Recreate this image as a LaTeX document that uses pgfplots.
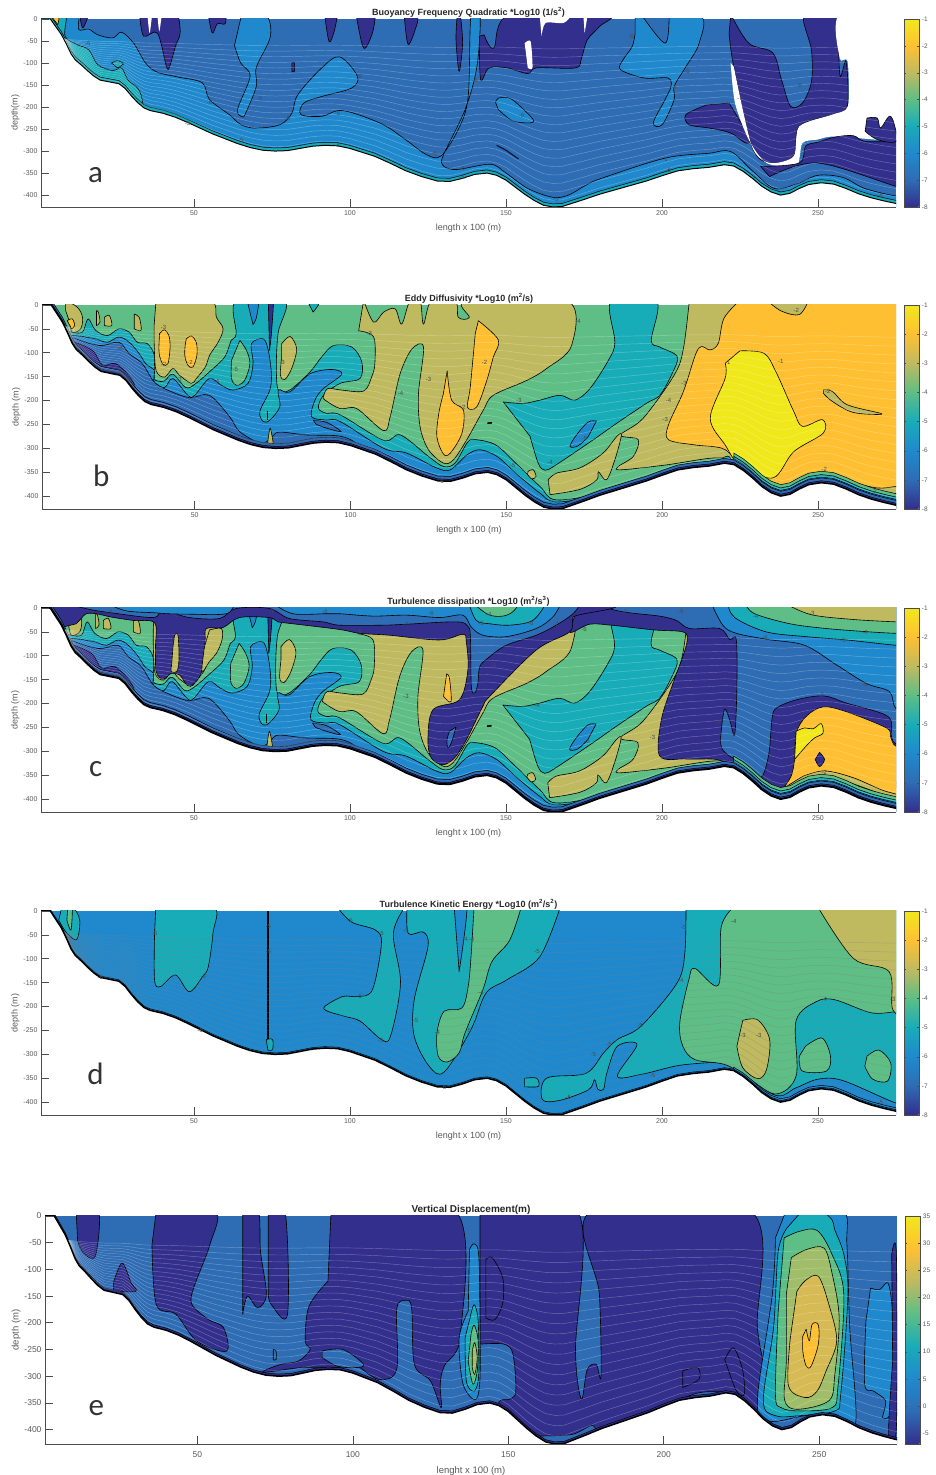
\documentclass[border=0pt]{standalone}
\usepackage{pgfplots}
\usepackage{pgfplotstable}
\usepackage{fontspec}
\setmainfont{Liberation Sans}
\newfontfamily\lett{Carlito}
\pgfplotsset{compat=1.18}
\definecolor{cA}{RGB}{51,47,140}
\definecolor{cB}{RGB}{46,108,180}
\definecolor{cC}{RGB}{32,137,205}
\definecolor{cD}{RGB}{24,172,184}
\definecolor{cE}{RGB}{94,190,133}
\definecolor{cF}{RGB}{191,186,96}
\definecolor{cG}{RGB}{254,192,50}
\definecolor{cH}{RGB}{241,232,28}
\definecolor{cL}{RGB}{160,190,105}
\definecolor{cM}{RGB}{214,186,84}
\pgfplotsset{colormap={parula}{rgb255=(51,47,140) rgb255=(46,108,180) rgb255=(32,137,205) rgb255=(24,172,184) rgb255=(94,190,133) rgb255=(191,186,96) rgb255=(254,192,50) rgb255=(241,232,28)}}
\pgfplotstableread{
x y
-5 0
1 0
4 0
6 -20
7.5 -35
9 -55
10.7 -80
12 -93
14 -105
16 -118
18 -130
20 -139
23 -143
26 -147
28 -158
30 -175
32 -190
34 -202
36 -208
40 -214
44 -223
48 -235
52 -248
56 -261
60 -272
64 -283
68 -292
72 -298
76 -300
80 -299
84 -294
88 -289
92 -287
96 -288
100 -294
104 -303
108 -312
113 -328
118 -345
123 -358
128 -368
132 -369
136 -362
140 -353
144 -350
147 -355
150 -366
153 -382
156 -398
159 -412
162 -423
165 -427
168 -426
171.5 -418
175 -410
180 -398
185 -388
190 -378
195 -368
200 -356
205 -345
210 -340
215 -337
220 -331
223 -334
226 -346
229 -362
232 -380
235 -393
238 -400
241 -396
244 -385
247 -376
251 -372
255 -375
259 -385
263 -397
267 -406
271 -413
275 -419
280 -421
280 -700
-5 -700
}\bathy
\pgfplotstableread{
x y
223 -700
223 -334
226 -346
229 -362
232 -380
235 -393
238 -400
241 -396
244 -385
247 -376
251 -372
255 -375
259 -385
263 -397
267 -406
271 -413
275 -419
280 -421
280 -700
}\bathyR
\newcommand{\rg}[2]{\addplot[fill=#1,draw=black,line width=.6pt,smooth,tension=.55,line join=round] coordinates {#2} --cycle;}
\newcommand{\rgn}[2]{\addplot[fill=#1,draw=none] coordinates {#2} --cycle;}
\newcommand{\rgs}[2]{\addplot[fill=#1,draw=none,smooth,tension=.45] coordinates {#2} --cycle;}
\newcommand{\band}[2]{\addplot[fill=#2,draw=black,line width=.5pt] table[y expr=\thisrowno{1}+#1] {\bathy} --cycle;}
\newcommand{\bandR}[2]{\addplot[fill=#2,draw=black,line width=.5pt] table[y expr=\thisrowno{1}+#1] {\bathyR} --cycle;}
\newcommand{\sig}[1]{\pgfplotsinvokeforeach{.06,.11,.16,.21,.26,.31,.36,.41,.46,.51,.56,.61,.66,.71,.76,.81,.86,.91,.96}{\addplot[#1,line width=.45pt,restrict x to domain=1:275] table[y expr={-45+(\thisrowno{1}+45)*##1}] {\bathy};}}
\newcommand{\mask}[1]{\addplot[fill=white,draw=black,line width=#1] table {\bathy} --cycle;}
\newcommand{\lb}[3]{\node[font=\fontsize{6}{6}\selectfont,text=black!70,inner sep=0pt] at (axis cs:#1,#2) {#3};}
\newcommand{\letter}[3]{\node[font=\lett\fontsize{31}{31}\selectfont,text=black!80,inner sep=0pt] at (axis cs:#1,#2) {#3};}
\pgfplotsset{
 panel/.style={scale only axis,xmin=1,xmax=275,ymin=-427,ymax=0,
  axis x line*=bottom,axis y line*=left,axis on top,clip=true,
  axis line style={black!70,line width=.8pt},
  xtick={50,100,150,200,250},ytick={-400,-350,-300,-250,-200,-150,-100,-50,0},
  tick align=inside,major tick length=8pt,tick style={black!70,line width=.6pt},
  tick label style={font=\fontsize{7}{8}\selectfont,text=black!65},
  /pgf/number format/assume math mode=true,
  label style={font=\fontsize{9}{10}\selectfont,text=black!65},
  title style={font=\bfseries\fontsize{9}{10}\selectfont,text=black!85,yshift=-8pt},
  xlabel style={yshift=-2pt},ylabel style={yshift=-3pt},
  },
 cb/.style n args={3}{colorbar,colormap name=parula,point meta min=#1,point meta max=#2,
  colorbar shift/.style={xshift=8pt},
  colorbar style={width=15pt,ytick={#3},tick align=inside,major tick length=2pt,
    axis line style={black!70,line width=.7pt},tick style={black!70},
    /pgf/number format/assume math mode=true,
    yticklabel style={font=\fontsize{6.5}{7}\selectfont,text=black!65,xshift=-1pt}}},
}
\newcommand{\sharedBC}{
\rgn{cE}{(1,0)(275,0)(275,-440)(1,-440)}
\rg{cF}{(208.7,10)(206.8,-91)(203.9,-146)(193.9,-237)(186.7,-272)(192.3,-282)(190.7,-317)(185.9,-338)(186.7,-345)(201,-335)(217,-320)(224,-330)(232,-375)(238,-392)(243,-380)(250,-357)(258,-362)(265,-383)(275,-395)(280,-395)(280,10)}
\rg{cD}{(10.7,-57)(14,-57)(15.8,-29)(18.2,-53)(22,-64)(25.7,-50)(29,-57)(31.6,-78)(34.8,-81)(37,-105)(37,-151)(38.1,-159)(40.3,-159)(43,-145)(47.2,-173)(50.4,-164)(54.7,-140)(59.6,-109)(61.7,-74)(63.3,-60)(63.3,10)(78.9,10)(76.8,-57)(76.2,-123)(76.8,-178)(80.5,-178)(87,-140)(90.7,-109)(94.5,-85)(100.4,-88)(103.6,-119)(103,-154)(96.7,-164)(91.3,-189)(89.7,-216)(92.4,-227)(96.7,-230)(110.6,-283)(116,-272)(125,-317)(129.8,-338)(133.5,-331)(137.7,-286)(140.4,-282)(146.6,-293)(153,-331)(160.8,-380)(166,-408)(182,-392)(199,-359)(215,-335)(222,-322)(222,-440)(5,-440)(5,-50)}
\rg{cD}{(149,-203)(155.4,-206)(160.8,-199)(167.2,-189)(172,-199)(176.8,-175)(182.7,-116)(184.8,-78)(183.7,10)(198.1,10)(196.5,-74)(199.2,-88)(204.8,-108)(203,-146)(199.2,-189)(194.9,-206)(185.3,-248)(177.9,-282)(166.1,-334)(162.4,-346)(160.2,-331)(157.6,-275)}
\rg{cC}{(178.9,-243)(176.2,-245)(172.5,-272)(170.4,-296)(173,-295)(176.2,-276)}
\rg{cC}{(11.2,-64)(14,-66)(18.2,-71)(22,-78)(25.7,-67)(29,-78)(32.2,-102)(34.3,-123)(37,-137)(37,-161)(40.3,-173)(43,-154)(47.8,-189)(50,-189)(54.7,-154)(58.5,-168)(62.3,-178)(67.1,-164)(68.7,-123)(68.2,-81)(72,-71)(73.6,-95)(74.6,-144)(74.1,-178)(70.9,-223)(72,-244)(74.1,-241)(77.3,-213)(76.8,-178)(80.5,-182)(87,-144)(94,-135)(97.2,-145)(91.3,-175)(88.6,-199)(87.5,-234)(92.4,-241)(96.7,-244)(110.6,-300)(118,-310)(127.6,-341)(132,-345)(137.3,-314)(141.5,-303)(147,-317)(153,-352)(160.8,-394)(166,-412)(182,-398)(199,-365)(215,-340)(222,-330)(222,-440)(5,-440)(5,-60)}
\rg{cB}{(11.2,-69)(16,-80)(20.4,-85)(25.7,-78)(29,-102)(33.2,-123)(37,-161)(41.3,-178)(48.3,-194)(54.7,-189)(61.2,-234)(64.4,-265)(70.9,-289)(74,-282)(75.1,-274)(77.3,-266)(85.9,-272)(97,-275)(103,-296)(105,-330)(105,-440)(5,-440)(5,-70)}
\rg{cA}{(10.7,-76)(17.2,-95)(20.4,-126)(24.7,-123)(29.6,-154)(32.2,-189)(36,-206)(51.6,-244)(64.5,-286)(75,-293)(91,-286)(103,-303)(103,-440)(5,-440)(5,-76)}
\rg{cB}{(88,-241)(92.4,-246)(97,-265)(92.4,-258)(89,-250)}
\rg{cF}{(18.5,-12)(19.1,-15)(19.6,-36)(18.5,-43)}
\rg{cF}{(21,-26)(22.6,-22)(23.4,-43)(21,-43)}
\rg{cF}{(30.6,-19)(32.2,-26)(32.8,-53)(30.6,-50)}
\rg{cF}{(8.6,10)(12.4,-5)(14,-26)(13.4,-50)(10.7,-57)(9.7,-33)(8.6,-12)}
\rg{cF}{(37.6,10)(54.8,10)(57,-26)(59.1,-50)(57.5,-78)(54.8,-105)(53.4,-130)(50.5,-154)(48.9,-164)(45.1,-147)(43,-133)(40.3,-151)(37.6,-137)(37,-81)(37,-40)}
\rg{cF}{(77.9,-81)(80.6,-66)(82.7,-92)(81.1,-133)(78.9,-156)(77.5,-147)(77.9,-109)}
\rg{cE}{(64.5,-74)(66.6,-95)(67.7,-123)(66,-158)(63.4,-168)(61.8,-154)(61.8,-116)}
\rg{cC}{(66.8,10)(70.3,10)(69.8,-26)(68.7,-41)}
\rg{cD}{(86,10)(90.3,10)(88,-15)}
\rg{cA}{(73.6,10)(75.2,10)(74.6,-60)(74,-95)}
\rg{cF}{(73.4,-290)(74.2,-258)(75.2,-290)}
\addplot[black,line width=1pt] coordinates {(73.2,-222)(73.2,-240)};
\rg{cF}{(104.2,10)(107.4,-36)(110.6,-15)(114.3,-8)(116.4,-40)(119.1,10)(122.3,10)(123.4,-40)(126,10)(133.5,10)(134.6,-26)(138.1,-26)(137.3,10)(169.3,10)(170.9,-85)(162.9,-133)(156.5,-158)(145.8,-189)(142.6,-220)(137.3,-282)(133,-324)(129.8,-331)(125,-303)(122.3,-255)(121.8,-185)(123.4,-88)(119.7,-92)(115.9,-144)(112.7,-234)(110.6,-263)(102,-217)(96.7,-217)(91.8,-199)(91.3,-192)(92.7,-175)(97,-178)(104.2,-180)(106.8,-150)(107.8,-122)(107.4,-67)(102.6,-54)}
\rg{cF}{(163.4,-366)(166.1,-352)(173.6,-341)(181,-310)(185.3,-276)(186.9,-272)(184.8,-324)(182.1,-366)(179.5,-349)(179,-366)(173.6,-386)(164,-397)}
\rg{cF}{(157,-348)(158.6,-345)(159.5,-359)(158.1,-364)(156.7,-354)}
\rg{black}{(144,-246)(145.3,-246)(145.3,-248)(144,-248)}
}
\begin{document}
\begin{tikzpicture}[x=1pt,y=1pt]
\path[use as bounding box] (0,0) rectangle (936,1475);
% ================= a
\begin{axis}[panel,at={(41pt,1268pt)},anchor=south west,width=855pt,height=188pt,
 cb={-8}{-1}{-8,-7,-6,-5,-4,-3,-2,-1},
 title={Buoyancy Frequency Quadratic *Log10 (1/s\textsuperscript{2})},
 xlabel={length x 100 (m)},ylabel={depth(m)}]
\rgn{cB}{(1,0)(275,0)(275,-440)(1,-440)}
\rg{cC}{(13.4,10)(13.1,-24)(16.3,-23)(19.2,-36)(24,-43)(26.8,-30)(30.7,-55)(34.5,-100)(38.3,-121)(45,-132)(52.7,-145)(55,-183)(61.3,-217)(65.1,-240)(69.9,-248)(77.6,-240)(81.4,-214)(83.3,-172)(91,-111)(96.7,-86)(102.4,-130)(100.5,-157)(91,-176)(85.2,-191)(84.3,-217)(91,-221)(97.7,-208)(110.1,-238)(117.8,-274)(124.5,-308)(129.2,-311)(134.9,-248)(137.9,-176)(138.8,10)(141.7,10)(140.7,-108)(136.9,-206)(130.2,-305)(129.6,-331)(134,-342)(145,-330)(150,-350)(157,-385)(165,-405)(170,-400)(176,-376)(181,-361)(201,-316)(215,-305)(222,-301)(229,-345)(236,-385)(243,-375)(250,-355)(258,-360)(265,-385)(275,-402)(280,-402)(280,-440)(3,-440)(3,10)}
\rg{cC}{(65.3,10)(73,10)(74.5,-40)(70,-110)(70,-153)(66.5,-215)(65.5,-222)(64,-205)(68,-130)(65,-100)(63,-60)}
\addplot[cA!40!black,line width=1.2pt] coordinates {(147,-287)(150,-298)(154,-318)};
\rg{cC}{(146.7,-190)(147.5,-180)(151.3,-180)(156,-208)(158.9,-231)(157,-236)(152,-231)(147.5,-205)}
\rg{cC}{(191.4,10)(211.9,10)(211.9,-55)(207.7,-108)(203.9,-153)(203.9,-183)(200.1,-240)(197.2,-236)(201,-183)(202.9,-153)(201.9,-134)(194.3,-134)(186.7,-115)(187.6,-92)(190.5,-62)(191.4,-32)}
\rg{cB}{(193.4,10)(201,-55)(202.3,10)}
\rg{cD}{(4.8,10)(9,10)(8.7,-39)(12.5,-58)(16.3,-70)(19.2,-104)(24,-117)(26.8,-111)(28.8,-138)(33.6,-191)(34,-440)(3,-440)(3,10)}
\rg{cD}{(23.6,-100)(25.5,-95)(27.4,-102)(25.5,-111)}
\rg{cG}{(3.9,10)(6.7,10)(6.4,-13)}
\band{7}{cD}
\rg{cA}{(13.4,10)(14.4,-20)(16.3,10)}
\rg{cA}{(32.6,10)(33.9,-39)(38.3,-32)(41.2,-108)(42.2,-108)(44.1,-62)(45.6,-32)(45,10)}
\rg{cA}{(54.6,10)(55.9,-32)(57.5,-11)(60,-11)(60.3,10)}
\rg{cA}{(91.9,10)(93.3,-51)(94.8,-32)(96.1,10)}
\rg{cA}{(102,10)(104.4,-66)(107.2,-32)(108.2,10)}
\rg{cA}{(117.4,10)(118.7,-58)(121.6,-9)(121.6,10)}
\rg{cA}{(134.4,10)(134,-47)(135,-119)(136.1,-55)(135.4,10)}
\rg{cA}{(81.4,-100)(82.2,-100)(82.2,-119)(81.4,-119)}
\rg{cA}{(141.5,-39)(141.9,-138)(144.6,-111)(150.3,-111)(157,-124)(159.9,-111)(172.3,-111)(174.2,-89)(176.1,-47)(180,-17)(182.4,10)(151.3,10)(146.1,-66)(143,-36)}
\rg{cA}{(222.1,10)(227.8,-55)(235.5,-77)(238.3,-138)(241.2,-198)(245,-191)(247.9,-142)(247.9,-70)(245.6,10)(256.5,10)(256.5,-39)(257.1,-130)(259,-96)(259.4,-198)(254.6,-217)(244,-244)(242.2,-312)(234.5,-327)(228.8,-289)(223,-108)(221.5,-32)}
\rg{cA}{(214.4,-195)(207.7,-217)(208.7,-240)(215.4,-248)(222,-259)(226.9,-282)(227.8,-267)(221.5,-191)}
\rgs{white}{(35.1,10)(35.8,-32)(36.6,10)}
\rgs{white}{(38.3,10)(38.9,-28)(39.7,10)}
\rgs{white}{(156,-55)(157.9,-51)(158.5,-111)(157,-111)}
\rgs{white}{(160.8,10)(170.4,10)(168.5,-9)(162.7,-9)(161.4,-39)}
\rgs{white}{(174.8,10)(176.1,10)(175.2,-32)}
\rgs{white}{(222,-100)(223.4,-191)(227.8,-274)(233.5,-327)(243,-335)(245,-282)(249.8,-274)(255.6,-267)(275,-278)(280,-278)(280,10)(257,10)(257,-90)(259.5,-96)(259.6,-198)(254.6,-217)(244,-244)(242.2,-312)(234.5,-327)(228.8,-289)(223,-108)}
\rg{cA}{(231.6,-335)(244,-327)(246,-289)(249.8,-280)(255.6,-268)(261.3,-265)(265.1,-278)(275,-278)(280,-278)(280,-385)(275,-380)(249.8,-327)(234.5,-358)}
\rg{cA}{(265.7,-225)(269,-225)(270,-248)(272.8,-221)(274.3,-236)(275,-278)(269,-274)(265.1,-255)}
\sig{white,opacity=.3}
\mask{1pt}
\letter{18.5}{-354}{a}
\lb{16}{-55}{-6}\lb{55}{-190}{-6}\lb{71}{-180}{-6}\lb{103}{-130}{-6}\lb{80}{-225}{-6}\lb{96}{-215}{-6}\lb{127}{-305}{-6}\lb{136}{-340}{-6}\lb{136}{-360}{-5}\lb{65}{-275}{-5}\lb{48}{-238}{-5}\lb{96}{-288}{-5}\lb{166}{-410}{-5}\lb{201}{-320}{-6}\lb{202}{-345}{-5}\lb{190}{-40}{-6}\lb{208}{-120}{-6}\lb{204}{-155}{-6}\lb{244}{-150}{-6}\lb{225}{-180}{-7}\lb{155}{-220}{-6}\lb{140}{-140}{-6}\lb{241}{-315}{-7}\lb{270}{-400}{-6}
\end{axis}
% ================= b
\begin{axis}[panel,at={(42pt,966pt)},anchor=south west,width=854pt,height=204pt,
 cb={-8}{-1}{-8,-7,-6,-5,-4,-3,-2,-1},
 title={Eddy Diffusivity *Log10 (m\textsuperscript{2}/s)},
 xlabel={length x 100 (m)},ylabel={depth (m)}]
\sharedBC
\rg{cG}{(9.1,-33)(10.7,-29)(11.5,-43)(10.5,-50)}
\rg{cG}{(38.7,-60)(40.3,-52)(41.7,-64)(42.1,-88)(41.4,-123)(39.8,-124)(38.7,-106)(38.5,-88)}
\rg{cG}{(47.3,-71)(48.9,-65)(50.5,-78)(50.7,-105)(49.4,-130)(47.8,-126)(46.8,-105)(47,-81)}
\rg{cG}{(141,-33)(147.4,-73)(145.8,-109)(143.7,-158)(140.5,-213)(137.5,-214)(138.4,-172)(140,-60)}
\rg{cG}{(131,-138)(132.4,-199)(136.2,-220)(135.7,-269)(132,-310)(129.8,-312)(127.7,-276)(128.3,-227)(129.8,-185)}
\rg{cG}{(224.9,10)(219.8,-28)(218,-80)(215.4,-94)(212.5,-87)(210.6,-105)(206.8,-181)(202,-251)(202,-282)(210.6,-293)(219.2,-300)(224,-324)(235.5,-383)(240,-380)(250,-354)(259.4,-369)(269,-383)(275,-380)(280,-380)(280,10)}
\rg{cF}{(233.5,10)(238.3,-13)(244,-20)(247,10)}
\rg{cF}{(251.7,-178)(254.6,-181)(259.4,-209)(270.5,-228)(261.3,-225)(254.6,-202)(251.7,-185)}
\rg{cH}{(224.9,-96)(232.6,-101)(236.4,-139)(242.2,-223)(245,-254)(251.4,-240)(251.7,-268)(242.2,-307)(235.5,-362)(224.9,-335)(220.2,-293)(215.4,-237)(220.2,-153)(220.2,-122)}
\bandR{24}{cE}\bandR{17}{cD}\bandR{12}{cC}
\band{10}{cB}\band{4}{cA}
\sig{white,opacity=.3}
\mask{1.5pt}
\letter{20}{-357}{b}
\lb{40}{-48}{-3}\lb{40}{-125}{-2}\lb{48.5}{-120}{-2}\lb{45}{-155}{-3}\lb{26}{-90}{-6}\lb{63}{-135}{-5}\lb{78}{-120}{-3}\lb{57}{-160}{-4}\lb{106}{-60}{-3}\lb{116}{-185}{-4}\lb{125}{-155}{-3}\lb{136}{-215}{-2}\lb{143}{-120}{-2}\lb{154}{-200}{-3}\lb{164}{-330}{-4}\lb{175}{-280}{-5}\lb{173}{-35}{-4}\lb{202}{-200}{-4}\lb{201}{-240}{-3}\lb{207}{-165}{-3}\lb{221}{-120}{-1}\lb{238}{-118}{-1}\lb{253}{-180}{-2}\lb{252}{-345}{-2}\lb{243}{-12}{-2}\lb{129}{-370}{-6}\lb{152}{-335}{-5}\lb{268}{-390}{-2}
\end{axis}
% ================= c
\begin{axis}[panel,at={(41pt,663pt)},anchor=south west,width=855pt,height=204pt,
 cb={-8}{-1}{-8,-7,-6,-5,-4,-3,-2,-1},
 title={Turbulence dissipation *Log10 (m\textsuperscript{2}/s\textsuperscript{3})},
 xlabel={lenght x 100 (m)},ylabel={depth (m)}]
\sharedBC
\rg{cA}{(174,10)(170.4,-50)(176.8,-34)(183.7,-36)(197.6,-46)(206.7,-50)(208.1,-67)(206.5,-105)(203.5,-158)(199.8,-234)(199.3,-310)(207.8,-316)(217.4,-317)(221.7,-331)(227,-352)(234,-387)(237.7,-383)(239.8,-376)(275,-376)(280,-376)(280,10)}
\rg{cB}{(176.3,10)(187.5,-8)(199.2,-17)(204.6,-26)(208.9,-43)(218.5,-43)(221.7,-66)(223.8,-66)(224,-165)(223.3,-265)(221.7,-234)(220,-213)(218.8,-283)(221,-307)(225.6,-324)(231.5,-355)(234.2,-307)(235.3,-230)(236.8,-209)(243.2,-192)(251.8,-184)(259.1,-199)(272.4,-227)(273.5,-268)(275,-285)(280,-285)(280,10)}
\rg{cC}{(215.8,10)(219.5,-36)(223.8,-53)(234,-66)(245.7,-78)(255.9,-119)(265.5,-158)(272.9,-175)(274.9,-210)(280,-210)(280,10)}
\rg{cD}{(221.1,10)(223.3,-20)(233.4,-50)(246.2,-60)(259.3,-67)(274.9,-78)(280,-78)(280,10)}
\rg{cE}{(226.5,10)(229.7,-12)(241,-33)(252.7,-43)(266.5,-50)(274.9,-53)(280,-53)(280,10)}
\rg{cF}{(239.3,10)(247.8,-14)(261.2,-24)(274.9,-29)(280,-29)(280,10)}
\rg{cF}{(236.5,-385)(245.2,-362)(252.1,-352)(261.2,-368)(275,-400)(280,-400)(280,-376)(252,-330)(240,-370)}
\rg{cG}{(238.8,-378)(241.4,-352)(242.5,-317)(243,-262)(246.2,-227)(251.6,-207)(259,-217)(271.9,-251)(273.2,-269)(274.9,-289)(280,-289)(280,-385)(272.4,-385)(261.2,-355)(252.1,-341)(245.2,-352)}
\rg{cH}{(243,-258)(245.7,-251)(248.4,-253)(251,-242)(251.6,-262)(248.9,-272)(246.2,-289)(242.5,-317)}
\rg{cA}{(250.5,-302)(252.1,-317)(250.5,-332)(249.1,-317)}
\rg{cA}{(12.3,-33)(13.9,-22)(15.5,-12)(18.7,-12)(23.5,-19)(30.5,-26)(37.4,-31)(37.7,-81)(37.9,-133)(40.1,-149)(42.7,-137)(45.4,-140)(48.1,-163)(50.7,-154)(52.6,-130)(53.6,-71)(54,-43)(59.3,-41)(64.6,-20)(74.2,-20)(76.9,-29)(81.7,-33)(96.7,-45)(103.1,-53)(112.7,-57)(128.7,-67)(136.2,-55)(137.3,-71)(137.8,-130)(135.1,-192)(126.6,-213)(125,-276)(126.1,-314)(129.8,-328)(133.5,-314)(137.3,-276)(142.6,-206)(144.8,-185)(159.7,-88)(170.4,-50)(171.5,-19)(174.7,10)(5,10)(8,-40)}
\rg{cF}{(43.8,-57)(44.9,-57)(45.2,-109)(44.5,-133)(42.7,-133)(42.9,-116)(43.3,-81)}
\rg{cF}{(55,-46)(58.8,-43)(59,-67)(57.2,-95)(55,-112)(52.9,-133)(52.6,-123)(53.4,-81)}
\rg{cB}{(134,-249)(132.5,-282)(131.4,-293)(131.1,-276)(131.9,-258)}
\rg{cG}{(131,-138)(131.9,-147)(132.4,-196)(130,-185)}
\rg{cB}{(8.6,10)(16.6,-3)(23.5,-10)(36.9,-20)(40.1,-6)(48.6,-20)(58.2,-22)(63.6,-1)(74.2,-1)(80.6,-22)(91.3,-29)(96.7,-36)(110.6,-36)(118.1,-34)(134.1,-29)(137.8,-38)(138.6,-60)(138.9,-164)(140,-178)(141,-158)(141.6,-123)(144.2,-105)(150.1,-78)(159.7,-57)(166.1,-36)(171.5,-12)(174.1,10)}
\rg{cC}{(21.9,10)(28.3,-6)(37.4,-10)(41.7,-12)(48.6,-13)(60.4,-12)(63,10)}
\rg{cC}{(75.3,10)(81.7,-12)(92.4,-12)(96.7,-12)(107.4,-17)(118.1,-15)(128.7,-20)(136.2,-15)(138.9,-40)(142.6,-57)(150.1,-60)(159.7,-43)(165,-19)(167.7,10)}
\rg{cD}{(138.1,10)(140.5,-26)(144.8,-33)(151.2,-36)(158.6,-26)(162.9,10)}
\rg{cE}{(139.4,10)(144.4,-14)(149,-17)(152.2,-8)(154.4,10)}
\bandR{24}{cE}\bandR{17}{cD}\bandR{12}{cC}
\band{10}{cB}\band{4}{cA}
\sig{white,opacity=.3}
\mask{1.8pt}
\letter{18.5}{-337}{c}
\lb{23}{-10}{-7}\lb{44}{-16}{-6}\lb{75}{-8}{-7}\lb{92}{-8}{-6}\lb{103}{-50}{-6}\lb{118}{-35}{-7}\lb{126}{-12}{-6}\lb{144.5}{-14}{-4}\lb{142}{-32}{-5}\lb{158}{-32}{-6}\lb{166}{-35}{-7}\lb{175}{-45}{-6}\lb{188}{-10}{-7}\lb{206}{-8}{-6}\lb{230}{-18}{-4}\lb{248}{-12}{-3}\lb{265}{-52}{-4}\lb{258}{-67}{-5}\lb{233}{-62}{-6}\lb{265}{-160}{-6}\lb{251}{-184}{-7}\lb{252}{-345}{-2}\lb{118}{-185}{-3}\lb{146}{-120}{-5}\lb{160}{-205}{-4}\lb{176}{-280}{-5}\lb{197}{-270}{-3}\lb{218}{-240}{-7}
\end{axis}
% ================= d
\begin{axis}[panel,at={(41pt,360pt)},anchor=south west,width=855pt,height=204pt,
 cb={-8}{-1}{-8,-7,-6,-5,-4,-3,-2,-1},
 title={Turbulence Kinetic Energy *Log10 (m\textsuperscript{2}/s\textsuperscript{2})},
 xlabel={lenght x 100 (m)},ylabel={depth (m)}]
\rgn{cC}{(1,0)(275,0)(275,-440)(1,-440)}
\rg{cD}{(37.8,10)(56.1,10)(56.1,-47)(54.6,-117)(52.7,-138)(48.5,-169)(44.1,-134)(39.3,-158)(37.4,-145)(37.4,-47)}
\rg{cD}{(7.7,10)(11,10)(13.4,-19)(12.4,-60)(9,-44)(6.7,-19)}
\rg{cE}{(9.6,10)(11,10)(10.6,-40)(9.3,-19)}
\rg{cD}{(95.7,10)(100.5,-23)(108.2,-40)(110.1,-68)(107.2,-165)(102.4,-179)(97.7,-179)(91.9,-200)(92.9,-210)(98.6,-221)(103.4,-231)(110.1,-269)(113,-262)(116.2,-151)(113.9,-47)(117.8,10)}
\rg{cD}{(118.3,10)(118.7,-47)(123.5,-44)(125,-75)(120.6,-186)(120.6,-262)(125.4,-325)(130.2,-337)(138.8,-248)(143.6,-172)(150.3,-144)(160.8,-96)(167.5,10)}
\rg{cC}{(133.4,10)(137.5,10)(135,-127)}
\rg{cE}{(139.8,10)(138.8,-96)(137.9,-158)(135.9,-203)(130.2,-210)(127.9,-255)(128.3,-304)(131.2,-316)(135,-297)(136.9,-255)(142.6,-165)(145.5,-106)(151.2,-61)(155,10)}
\rg{cD}{(207.7,10)(207.3,-89)(204.8,-151)(193.3,-241)(185.7,-269)(181.3,-297)(175.6,-340)(163,-350)(161.7,-395)(167.5,-396)(176.5,-374)(178.4,-353)(179.4,-373)(181.3,-373)(182.3,-340)(185.7,-283)(192,-280)(185.7,-346)(194,-341)(205.7,-323)(219,-316)(222,-318)(236,-385)(243,-370)(250,-352)(258,-355)(275,-402)(280,-402)(280,10)}
\rg{cD}{(156,-350)(159.8,-350)(160.4,-367)(156,-368)}
\rg{cE}{(223.3,10)(219,-33)(218.1,-155)(210.5,-120)(208.6,-144)(205.7,-234)(206.7,-283)(210.5,-311)(220,-321)(226.7,-345)(236.3,-383)(243,-345)(243,-229)(249.7,-189)(255.5,-186)(267,-213)(275,-211)(280,-211)(280,10)}
\rg{cF}{(249.8,10)(261.3,-99)(272.8,-127)(274,-207)(280,-207)(280,10)}
\rg{cF}{(225.9,-229)(230.7,-228)(234.5,-269)(233.5,-332)(230.7,-351)(225.9,-328)(224,-283)}
\rg{cE}{(246,-283)(251.3,-266)(254,-304)(252.7,-335)(245,-335)(244,-304)}
\rg{cE}{(265.7,-304)(269.5,-291)(273.3,-318)(272.3,-356)(267.5,-352)(265,-325)}
\addplot[black,line width=.6pt] coordinates {(73.4,0)(73.4,-285)};
\addplot[black,line width=.6pt] coordinates {(74,0)(74,-270)};
\rg{cD}{(73.2,-269)(75.2,-269)(75.2,-290)(73.7,-291)}
\bandR{7}{cC}
\band{3}{cB}
\sig{gray,opacity=.4}
\mask{1.5pt}
\letter{18.5}{-340}{d}
\lb{73.8}{-32}{-5}\lb{73.8}{-85}{-5}\lb{37.5}{-47}{-5}\lb{53}{-138}{-5}\lb{100}{-20}{-5}\lb{110}{-47}{-5}\lb{118}{-40}{-5}\lb{121}{-230}{-5}\lb{103}{-179}{-5}\lb{110}{-270}{-5}\lb{128}{-255}{-4}\lb{137}{-60}{-4}\lb{139}{-60}{-4}\lb{142}{-170}{-4}\lb{138}{-250}{-5}\lb{160}{-85}{-5}\lb{207}{-35}{-5}\lb{223}{-22}{-4}\lb{206}{-145}{-4}\lb{193}{-240}{-5}\lb{178}{-300}{-5}\lb{183}{-280}{-5}\lb{197}{-345}{-5}\lb{170}{-390}{-5}\lb{226}{-260}{-3}\lb{231}{-260}{-3}\lb{252}{-185}{-4}\lb{274}{-185}{-3}\lb{270}{-400}{-5}\lb{20}{-140}{-6}\lb{52}{-250}{-6}\lb{130}{-370}{-6}
\end{axis}
% ================= e
\begin{axis}[panel,at={(45pt,31pt)},anchor=south west,width=852pt,height=228pt,
 cb={-7}{35}{-5,0,5,10,15,20,25,30,35},
 title style={font=\bfseries\fontsize{10}{11}\selectfont},
 tick label style={font=\fontsize{8.5}{9}\selectfont},
 xticklabel style={yshift=-4pt},
 label style={font=\fontsize{9.5}{10}\selectfont},
 title={Vertical Displacement(m)},
 xlabel={lenght x 100 (m)},ylabel={depth (m)}]
\rgn{cB}{(1,0)(275,0)(275,-440)(1,-440)}
\rg{cA}{(11,10)(18.2,10)(17.2,-75)(13.3,-69)(11.5,-47)}
\rg{cA}{(36.8,10)(55.6,10)(54,-54)(48.8,-135)(48.3,-166)(53.6,-194)(58.4,-209)(59.4,-253)(49.8,-234)(43.1,-184)(36.8,-166)(35.4,-54)}
\rg{cA}{(64.6,10)(69.6,10)(70.3,-66)(72.2,-147)(69.4,-172)(66.1,-150)(64.6,-184)}
\rg{cA}{(72.8,10)(78.2,10)(79,-184)(73.8,-166)(72.8,-147)}
\rg{cA}{(93,10)(132.9,10)(134.6,-222)(129.4,-281)(128.1,-315)(128.4,-359)(125,-309)(119.8,-278)(118.9,-172)(116.9,-158)(114.1,-175)(114.1,-287)(108.3,-306)(100.6,-278)(96.8,-283)(83.4,-284)(70.9,-293)(76.7,-278)(82.4,-272)(86.3,-250)(84.7,-234)(85.9,-169)(92,-122)}
\rg{cB}{(90.1,-253)(96.8,-250)(103.5,-278)(100.6,-284)(94.9,-281)(90.1,-265)}
\rg{cB}{(74.4,-250)(75.3,-253)(75.3,-269)(74.4,-269)}
\rg{cA}{(140.9,10)(172.2,10)(171.6,-253)(173.5,-343)(175.4,-287)(178.3,-278)(179.8,-300)(179.3,-147)(176.8,10)(227.8,10)(230.1,-209)(233,-309)(230.1,-340)(233,-378)(239.7,-415)(239.7,-440)(146.7,-440)(146.7,-353)(150.5,-343)(152.4,-328)(151.5,-259)(148.6,-240)(140.9,-240)}
\rg{cA}{(142.8,-82)(144.8,-78)(148.2,-116)(148.2,-163)(145.7,-194)(142.8,-191)}
\rg{cA}{(23,-125)(25.8,-88)(28.7,-125)(30.2,-141)(23,-141)}
\rg{cB}{(202.3,-350)(210,-333)(214.8,-329)(219.5,-331)(220.5,-345)(202.3,-365)}
\rg{cB}{(160.1,-412)(170.6,-409)(177.4,-393)(177.4,-440)(160.1,-440)}
\rg{cA}{(219.6,-269)(222.4,-247)(225.3,-287)(225.9,-334)(223.4,-328)(220.5,-284)}
\rg{cA}{(206.1,-290)(210.9,-284)(211.3,-306)(206.1,-321)}
\rg{cC}{(137.5,-63)(139,-52)(140.5,-75)(140.9,-209)(140.9,-303)(140,-340)(138,-340)(135.2,-309)(134.2,-228)(137.1,-178)}
\rg{cD}{(137.7,-191)(139,-166)(140.3,-197)(140.5,-297)(139,-328)(136.5,-309)(136.1,-228)}
\rg{cE}{(138,-222)(139,-204)(140.3,-234)(140,-290)(138.6,-315)(137.1,-272)}
\rg{cL}{(138.4,-253)(139.2,-237)(140,-265)(139.2,-297)(138.4,-284)}
\rg{cC}{(239.3,10)(257.3,10)(258.9,-54)(259.8,-209)(261.7,-387)(255,-371)(245.4,-374)(233.9,-384)(230.1,-346)(234.9,-147)(235.9,-41)}
\rg{cD}{(244.5,10)(250.2,10)(254.1,-7)(255,-26)(257.9,-72)(259.2,-147)(256.9,-334)(255,-365)(243.5,-374)(235.9,-374)(232,-346)(235.3,-209)(236.8,-66)(239.7,-22)}
\rg{cE}{(238.7,-41)(243.5,-29)(249.3,-27)(254.1,-72)(257.9,-147)(256,-321)(254.1,-359)(243.5,-365)(237.8,-359)(235.9,-334)(236.8,-178)}
\rg{cL}{(241,-78)(245.8,-63)(251.5,-60)(254.1,-107)(256.4,-191)(255,-297)(253.1,-346)(242.6,-362)(238.8,-343)(239.4,-272)(239.4,-147)}
\rg{cM}{(242.8,-141)(245.5,-121)(249.7,-113)(253.1,-166)(255.6,-234)(252.2,-290)(249.3,-328)(245.5,-340)(240.1,-318)(240.7,-228)}
\rg{cG}{(245.8,-212)(246.8,-234)(247.7,-203)(249.7,-204)(249.7,-240)(247.4,-281)(245.8,-281)(244.7,-253)(244.7,-225)}
\rg{cC}{(266.5,-135)(269.4,-138)(272.3,-128)(273.8,-209)(273.3,-359)(270.4,-378)(271.3,-346)(267.5,-328)(264.6,-315)(265,-197)}
\rg{cA}{(273.3,-72)(274.8,-72)(274.8,-396)(272.3,-409)(273.6,-272)}
\band{4}{cA}
\sig{white,opacity=.3}
\mask{1.5pt}
\letter{17.5}{-360}{e}
\end{axis}
\end{tikzpicture}
\end{document}
